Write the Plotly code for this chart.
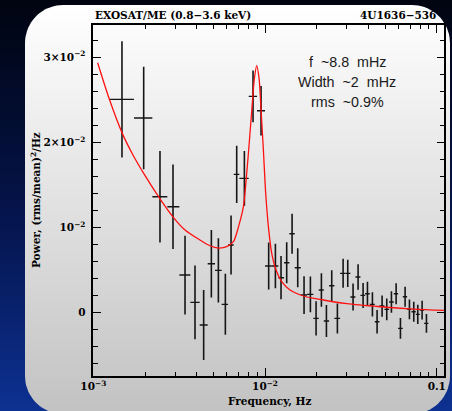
import numpy as np
import plotly.graph_objects as go

# ---------------- data ----------------
freq = [1.469e-3, 1.965e-3, 2.445e-3, 2.911e-3, 3.420e-3, 3.910e-3, 4.391e-3, 4.869e-3,
        5.349e-3, 5.874e-3, 6.340e-3, 6.839e-3, 7.580e-3, 8.514e-3, 9.478e-3, 1.050e-2,
        1.149e-2, 1.239e-2, 1.337e-2, 1.437e-2, 1.550e-2, 1.687e-2, 1.837e-2, 1.982e-2,
        2.129e-2, 2.277e-2, 2.445e-2, 2.638e-2, 2.848e-2, 3.031e-2, 3.255e-2, 3.481e-2,
        3.723e-2, 3.947e-2, 4.219e-2, 4.492e-2, 4.804e-2, 5.113e-2, 5.444e-2, 5.797e-2,
        6.143e-2, 6.539e-2, 6.931e-2, 7.345e-2, 7.750e-2, 8.214e-2, 8.705e-2]

power = [0.02504, 0.02285, 0.01361, 0.01244, 0.00442, 0.00121, -0.00145, 0.00575,
         0.00497, 0.00098, 0.00794, 0.01624, 0.01577, 0.02539, 0.02371, 0.00548,
         0.00548, 0.00411, 0.00587, 0.00927, 0.00528, 0.00207, 0.00215, -0.00067,
         0.00266, -0.00098, 0.00317, -0.00067, 0.00462, 0.00462, 0.00184, 0.00419,
         0.00203, 0.00223, 0.00098, -0.00106, 0.00078, 0.00039, 0.00125, 0.00223,
         -0.00184, 0.00188, 0.00039, 0.00012, -0.00020, 0.00030, -0.00125]

power_err = [0.00681, 0.00601, 0.00538, 0.00497, 0.00462, 0.00432, 0.00411, 0.00397,
             0.00378, 0.00358, 0.00346, 0.00336, 0.00321, 0.00303, 0.00291, 0.00276,
             0.00262, 0.00254, 0.00241, 0.00235, 0.00229, 0.00221, 0.00209, 0.00200,
             0.00196, 0.00188, 0.00180, 0.00176, 0.00170, 0.00160, 0.00158, 0.00151,
             0.00147, 0.00141, 0.00143, 0.00137, 0.00125, 0.00129, 0.00127, 0.00123,
             0.00121, 0.00117, 0.00117, 0.00117, 0.00112, 0.00110, 0.00110]

# frequency bin edges (one more than the number of points)
bin_edges = [1.250e-3, 1.725e-3, 2.207e-3, 2.698e-3, 3.170e-3, 3.673e-3, 4.163e-3, 4.634e-3,
             5.113e-3, 5.592e-3, 6.087e-3, 6.568e-3, 7.087e-3, 8.034e-3, 8.981e-3, 1.000e-2,
             1.094e-2, 1.196e-2, 1.290e-2, 1.386e-2, 1.489e-2, 1.614e-2, 1.757e-2, 1.912e-2,
             2.054e-2, 2.197e-2, 2.360e-2, 2.534e-2, 2.735e-2, 2.938e-2, 3.141e-2, 3.359e-2,
             3.593e-2, 3.825e-2, 4.072e-2, 4.354e-2, 4.634e-2, 4.956e-2, 5.277e-2, 5.617e-2,
             5.953e-2, 6.339e-2, 6.718e-2, 7.119e-2, 7.545e-2, 7.962e-2, 8.438e-2, 8.942e-2]

# fitted model curve
model_freq = [1.06e-3, 1.245e-3, 1.475e-3, 1.702e-3, 1.965e-3, 2.435e-3, 2.924e-3, 3.420e-3,
              4.18e-3, 4.78e-3, 5.35e-3, 5.98e-3, 6.54e-3, 6.99e-3, 7.48e-3, 7.82e-3,
              8.10e-3, 8.40e-3, 8.67e-3, 8.94e-3, 9.23e-3, 9.48e-3, 9.78e-3, 1.009e-2,
              1.046e-2, 1.094e-2, 1.159e-2, 1.251e-2, 1.398e-2, 1.672e-2, 2.187e-2,
              2.99e-2, 4.677e-2, 7.31e-2, 0.1108]
model_power = [0.02934, 0.02496, 0.02105, 0.01851, 0.01635, 0.01342, 0.01119, 0.00970,
               0.00853, 0.00786, 0.00759, 0.00775, 0.00833, 0.01002, 0.01244, 0.01635,
               0.02007, 0.02418, 0.02750, 0.02900, 0.02750, 0.02379, 0.01910, 0.01400,
               0.01010, 0.00696, 0.00501, 0.00364, 0.00266, 0.00196, 0.00149,
               0.00106, 0.00070, 0.00043, 0.00027]

x_tickvals = [1e-3, 1e-2, 0.1]
x_ticktext = ["10<sup>−3</sup>", "10<sup>−2</sup>", "0.1"]
y_tickvals = [0, 0.01, 0.02, 0.03]
y_ticktext = ["0", "10<sup>−2</sup>", "2×10<sup>−2</sup>", "3×10<sup>−2</sup>"]

title_left = "EXOSAT/ME (0.8−3.6 keV)"
title_right = "4U1636−536"
x_title = "Frequency, Hz"
y_title = "Power, (rms/mean)<sup>2</sup>/Hz"
fit_lines = ["f\u00a0\u00a0~8.8\u00a0\u00a0mHz", "Width\u00a0\u00a0~2\u00a0\u00a0mHz", "rms\u00a0\u00a0~0.9%"]

# ---------------- layout geometry ----------------
W, H = 452, 411
AX_L, AX_R, AX_T, AX_B = 93.3, 444.3, 25.0, 376.0

fig = go.Figure()

# page background (dark blue gradient)
fig.add_trace(go.Scatter(
    x=[0, W, W, 0, 0], y=[0, 0, H, H, 0], mode="lines", fill="toself",
    line=dict(width=0),
    fillgradient=dict(type="vertical",
                      colorscale=[[0, "#0d3192"], [0.45, "#05154f"], [1, "#000410"]]),
    hoverinfo="skip", showlegend=False, xaxis="x", yaxis="y"))

# rounded white panel
px0, px1, py_top, py_bot, r = 25.0, 450.0, 5.0, 414.0, 38.0
def arc(cx, cy, a0, a1, n=20):
    t = np.linspace(np.radians(a0), np.radians(a1), n)
    return cx + r * np.cos(t), cy + r * np.sin(t)
yt, yb = H - py_top, H - py_bot
segs = [arc(px1 - r, yt - r, 0, 90), arc(px0 + r, yt - r, 90, 180),
        arc(px0 + r, yb + r, 180, 270), arc(px1 - r, yb + r, 270, 360)]
pxs = np.concatenate([s[0] for s in segs] + [segs[0][0][:1]])
pys = np.concatenate([s[1] for s in segs] + [segs[0][1][:1]])
fig.add_trace(go.Scatter(
    x=pxs, y=pys, mode="lines", fill="toself", line=dict(width=0),
    fillgradient=dict(type="vertical", colorscale=[[0, "#c2c2c2"], [1, "#ffffff"]]),
    hoverinfo="skip", showlegend=False, xaxis="x", yaxis="y"))

# data points with error bars
err_lo = [f - lo for f, lo in zip(freq, bin_edges[:-1])]
err_hi = [hi - f for f, hi in zip(freq, bin_edges[1:])]
fig.add_trace(go.Scatter(
    x=freq, y=power, mode="markers",
    marker=dict(size=1, color="rgba(0,0,0,0)"),
    error_y=dict(type="data", array=power_err, color="#151515", thickness=1.6, width=0),
    error_x=dict(type="data", array=err_hi, arrayminus=err_lo, color="#151515",
                 thickness=1.4, width=0),
    showlegend=False, xaxis="x2", yaxis="y2", cliponaxis=True))

# model curve
fig.add_trace(go.Scatter(
    x=model_freq, y=model_power, mode="lines",
    line=dict(color="#ff1010", width=1.3, shape="spline", smoothing=0.8),
    showlegend=False, xaxis="x2", yaxis="y2"))

serif = dict(family="DejaVu Serif", size=10.5, color="black", weight="bold")
axis_common = dict(showline=True, linecolor="black", linewidth=1.5, mirror="allticks",
                   ticks="inside", ticklen=8, tickwidth=1.2, tickcolor="black",
                   showgrid=False, zeroline=False, tickfont=serif, fixedrange=True,
                   automargin=False)

minor_x = [m * 10.0 ** e for e in (-3, -2) for m in range(2, 10)] + [0.11]

fig.update_layout(
    template="none",
    width=W, height=H, margin=dict(l=0, r=0, t=0, b=0, pad=0, autoexpand=False),
    paper_bgcolor="#000410", plot_bgcolor="rgba(0,0,0,0)", showlegend=False,
    xaxis=dict(domain=[0, 1], range=[0, W], visible=False, fixedrange=True, automargin=False),
    yaxis=dict(domain=[0, 1], range=[0, H], visible=False, fixedrange=True, automargin=False),
    xaxis2=dict(anchor="y2", domain=[AX_L / W, AX_R / W], type="log",
                range=[-3, np.log10(0.1106)],
                tickmode="array", tickvals=x_tickvals, ticktext=x_ticktext,
                minor=dict(ticks="inside", ticklen=4.5, tickwidth=1, tickcolor="black",
                           tickvals=minor_x, showgrid=False),
                **axis_common),
    yaxis2=dict(anchor="x2", domain=[1 - AX_B / H, 1 - AX_T / H],
                range=[-0.00743, 0.03377],
                tickmode="array", tickvals=y_tickvals, ticktext=y_ticktext,
                ticklabelstandoff=4,
                minor=dict(ticks="inside", ticklen=4.5, tickwidth=1, tickcolor="black",
                           tick0=0, dtick=0.002, showgrid=False),
                **axis_common),
    annotations=[
        dict(text=title_left, x=AX_L / W, y=1 - 15 / H, xref="paper", yref="paper",
             xanchor="left", yanchor="middle", showarrow=False, font=serif),
        dict(text=title_right, x=438 / W, y=1 - 15 / H, xref="paper", yref="paper",
             xanchor="right", yanchor="middle", showarrow=False, font=serif),
        dict(text=x_title, x=269 / W, y=1 - 401 / H, xref="paper", yref="paper",
             xanchor="center", yanchor="middle", showarrow=False, font=serif),
        dict(text=y_title, x=35 / W, y=1 - 200 / H, xref="paper", yref="paper",
             xanchor="center", yanchor="middle", showarrow=False, font=serif,
             textangle=-90),
    ] + [
        dict(text=t, x=347 / W, y=1 - yy / H, xref="paper", yref="paper",
             xanchor="center", yanchor="middle", showarrow=False,
             font=dict(family="Liberation Sans", size=14.3, color="#1a1a1a"))
        for t, yy in zip(fit_lines, [61.7, 81.7, 102.3])
    ],
)

fig.write_html("out.html")
